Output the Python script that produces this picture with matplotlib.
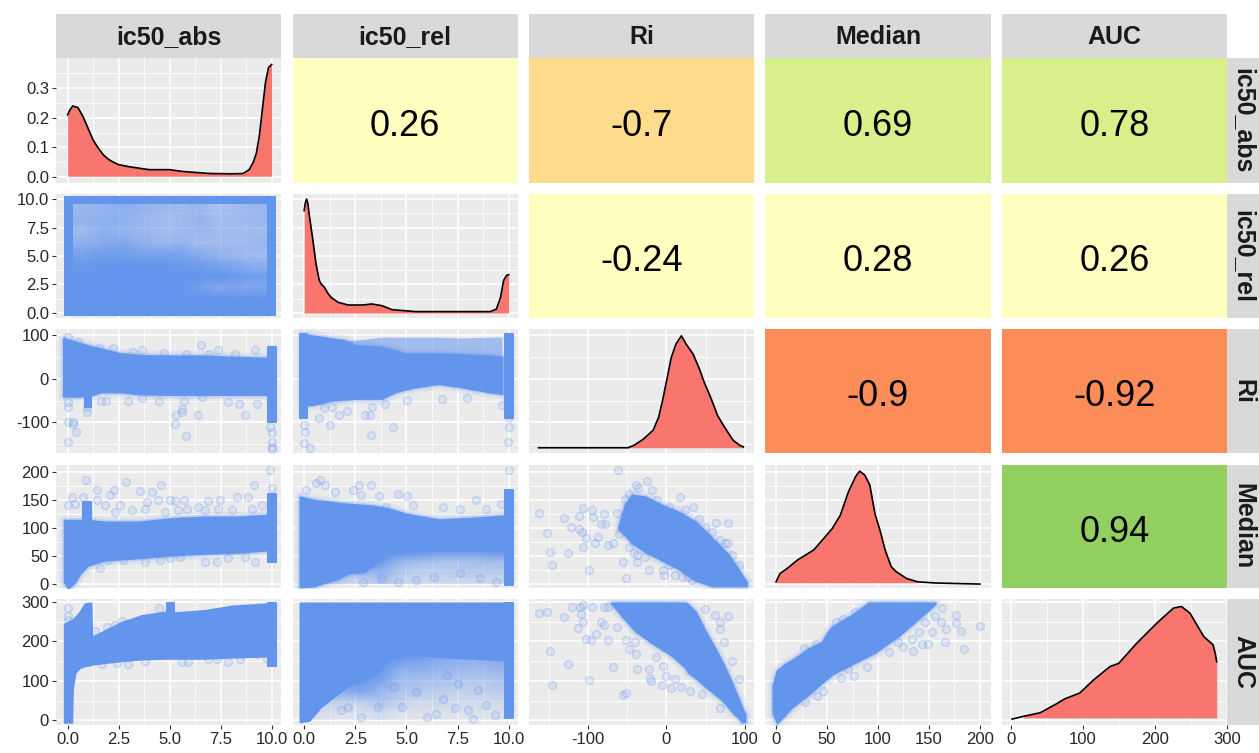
import matplotlib
matplotlib.use("Agg")
import matplotlib.pyplot as plt
import numpy as np
from matplotlib.colors import to_rgb

plt.rcParams["font.family"] = ["Liberation Sans", "DejaVu Sans"]

names = ["ic50_abs", "ic50_rel", "Ri", "Median", "AUC"]

# axis ticks
xticks = [[0, 2.5, 5, 7.5, 10], [0, 2.5, 5, 7.5, 10], [-100, 0, 100], [0, 50, 100, 150, 200], [0, 100, 200, 300]]
xticklabels = [["0.0", "2.5", "5.0", "7.5", "10.0"], ["0.0", "2.5", "5.0", "7.5", "10.0"], ["-100", "0", "100"],
               ["0", "50", "100", "150", "200"], ["0", "100", "200", "300"]]
yticks = [[0, 0.1, 0.2, 0.3], [0, 2.5, 5, 7.5, 10], [-100, 0, 100], [0, 50, 100, 150, 200], [0, 100, 200, 300]]
yticklabels = [["0.0", "0.1", "0.2", "0.3"], ["0.0", "2.5", "5.0", "7.5", "10.0"], ["-100", "0", "100"],
               ["0", "50", "100", "150", "200"], ["0", "100", "200", "300"]]
xlims = [(-0.57, 10.46), (-0.57, 10.43), (-175.2, 111.5), (-10.8, 210.8), (-12, 300.3)]
ylims = [(-0.02, 0.402), (-0.44, 10.44), (-170, 113.6), (-7, 213), (-12, 307)]

# correlations (upper triangle)
corr_cells = [(0, 1), (0, 2), (0, 3), (0, 4), (1, 2), (1, 3), (1, 4), (2, 3), (2, 4), (3, 4)]
corr_vals = ["0.26", "-0.7", "0.69", "0.78", "-0.24", "0.28", "0.26", "-0.9", "-0.92", "0.94"]
corr_cols = ["#FFFFBF", "#FEDC8B", "#D9EF8B", "#D9EF8B", "#FFFFBF", "#FFFFBF", "#FFFFBF", "#FC8D59", "#FC8D59", "#91CF60"]

# densities (in row units)
dens_abs_x = [0, 0.1, 0.25, 0.5, 0.75, 1, 1.25, 1.5, 1.75, 2, 2.25, 2.5, 3, 3.5, 4, 5, 5.5, 6, 7, 8, 8.6, 8.9, 9.1, 9.25, 9.4, 9.5, 9.6, 9.7, 9.85, 10]
dens_abs_y = [0.21, 0.225, 0.24, 0.235, 0.205, 0.165, 0.125, 0.098, 0.075, 0.06, 0.05, 0.042, 0.035, 0.03, 0.025, 0.025, 0.02, 0.017, 0.012, 0.011, 0.012, 0.025, 0.05, 0.08, 0.14, 0.2, 0.26, 0.32, 0.37, 0.38]
dens_rel_x = [0, 0.05, 0.12, 0.18, 0.25, 0.33, 0.41, 0.5, 0.58, 0.74, 0.85, 0.99, 1.15, 1.32, 1.65, 2.15, 2.9, 3.3, 3.8, 4.3, 5.45, 9.1, 9.4, 9.6, 9.75, 9.9, 10]
dens_rel_y = [8.98, 9.6, 10, 9.6, 8.6, 7.6, 6.6, 5.4, 4.3, 2.85, 2.5, 2.26, 1.75, 1.37, 0.94, 0.7, 0.7, 0.79, 0.64, 0.29, 0.12, 0.12, 0.35, 1.37, 2.85, 3.3, 3.36]
dens_ri_x = [-163, -49, -41, -30, -17, -10, -5, 1, 6, 12, 19, 25, 34, 42, 48, 57, 65, 74, 85, 93, 98]
dens_ri_y = [-158, -158, -152, -139, -118, -88, -50, 3, 48, 79, 98, 79, 56, 22, -8, -46, -84, -111, -141, -152, -156]
dens_med_x = [0, 4, 11, 21, 37, 47, 55, 63, 71, 78, 82, 87, 92, 97, 102, 107, 113, 118, 128, 139, 156, 200]
dens_med_y = [4, 19, 28, 43, 61, 82, 99, 123, 165, 192, 202, 195, 177, 126, 96, 61, 31, 22, 10, 4, 2, 0]
dens_auc_x = [2, 18, 41, 64, 75, 96, 115, 138, 150, 175, 203, 226, 237, 249, 268, 281, 284, 286]
dens_auc_y = [3, 10, 19, 42, 54, 69, 102, 136, 144, 195, 246, 284, 288, 271, 212, 191, 169, 148]
dens_base = [0.003, 0.0, -158, 2.4, 6]

# ic50_rel vs ic50_abs: opacity read on a coarse grid, solid outside it
rel_abs_op = [[0.6, 0.65, 0.7, 0.65, 0.6, 0.55, 0.6, 0.5, 0.55, 0.6],
              [0.65, 0.7, 0.7, 0.6, 0.55, 0.55, 0.65, 0.55, 0.55, 0.6],
              [0.55, 0.7, 0.65, 0.6, 0.55, 0.55, 0.6, 0.55, 0.55, 0.55],
              [0.7, 0.75, 0.8, 0.7, 0.6, 0.65, 0.55, 0.55, 0.55, 0.6],
              [0.85, 0.9, 0.9, 0.85, 0.85, 0.85, 0.75, 0.65, 0.6, 0.55],
              [0.95, 1, 1, 1, 1, 0.95, 0.9, 0.85, 0.75, 0.7],
              [1, 1, 1, 1, 1, 1, 1, 1, 0.95, 0.9],
              [1, 1, 1, 1, 1, 1, 0.9, 0.8, 0.8, 0.8],
              [1, 1, 1, 1, 1, 1, 1, 1, 1, 1]]

# Ri vs ic50_abs
ri_abs_x = [-0.2, 0.5, 1.1, 1.65, 2.5, 3.65, 5, 6.6, 8.2, 9.8]
ri_abs_hi = [92, 82, 74, 68, 58, 53, 52, 52, 49, 47]
ri_abs_lo = [-40, -40, -38, -30, -30, -35, -36, -36, -36, -36]
ri_abs_out_x = [0, 0.4, 0, 0.25, 0.25, 0, 0, 5.25, 5.3, 5.8, 6.4, 8.7, 9.9, 10, 10, 10, 10, 0.95, 0.95, 5.7, 5.6, 5.6, 1.65, 1.9, 2.95, 3.65, 4.5, 6.6, 7.85, 8.4, 9.3, 6.55, 7.35, 1.55, 2.2, 3.65, 9.2, 8.2, 6.95, 5.8, 4.7, 3.2, 0.5, 0]
ri_abs_out_y = [-145, -122, -98, -98, -103, -65, -54, -103, -84, -130, -82, -82, -111, -122, -145, -156, -160, -77, -65, -50, -69, -77, -50, -52, -52, -44, -50, -42, -54, -58, -58, 77, 66, 70, 70, 65, 65, 56, 56, 56, 58, 61, 83, 95]

# Median vs ic50_abs
med_abs_x = [-0.16, 0.03, 0.36, 0.6, 1.0, 1.83, 3.46, 5.1, 6.73, 8.37, 9.75]
med_abs_hi = [114, 114, 114, 114, 114, 111, 111, 117, 120, 120, 123]
med_abs_lo = [4, -7, 4, 19, 34, 43, 47, 52, 55, 57, 61]
med_abs_out_x = [0.88, 2.86, 4.6, 1.42, 2.29, 3.55, 4.12, 9.92, 9.15, 10, 0.2, 0.77, 1.42, 2.08, 4.44, 5.02, 5.72, 5.26, 6.9, 7.47, 8.28, 8.86, 0, 0.36, 1.83, 2.57, 3.79, 3.87, 5.83, 6.4, 7.39, 9.51, 1.58, 2.73, 3.79, 4.53, 5.02, 6.73, 7.34, 9.18, 2, 5.51, 7.88, 8.69, 1.01, 2.32, 3.14, 4.77, 5.42, 6.73, 8.04, 9.02]
med_abs_out_y = [186, 183, 177, 168, 168, 166, 165, 204, 177, 171, 156, 156, 150, 159, 151, 151, 151, 148, 148, 151, 156, 156, 141, 144, 141, 141, 135, 147, 135, 138, 135, 141, 28, 43, 40, 43, 46, 40, 40, 40, 43, 49, 47, 49, 129, 129, 132, 129, 132, 132, 132, 135]

# AUC vs ic50_abs
auc_abs_x = [-0.16, 0.2, 0.23, 0.36, 0.6, 0.85, 1.14, 1.18, 1.83, 2.65, 3.63, 4.77, 5.26, 6.73, 8.04, 9.84]
auc_abs_hi = [244, 253, 254, 260, 274, 295, 297, 210, 227, 248, 265, 274, 272, 278, 289, 295]
auc_abs_lo = [-5, -5, 79, 121, 134, 138, 141, 142, 146, 151, 155, 157, 157, 157, 160, 163]
auc_abs_out_x = [0, 0, 0, 4.49, 1.34, 1.91, 2.32, 2.65, 1.67, 2.4, 2.94, 3.79, 5.59, 5.88, 6.9, 7.3, 7.88, 8.45, 9.26, 9.75, 5.26, 6.4, 7.55, 8.53, 9.02]
auc_abs_out_y = [284, 265, 255, 284, 225, 236, 240, 251, 142, 144, 142, 151, 147, 147, 155, 155, 147, 155, 168, 155, 164, 164, 168, 168, 172]

# Ri vs ic50_rel
ri_rel_x = [-0.11, 0.38, 0.86, 1.35, 2, 2.5, 3.8, 4.45, 4.94, 5.43, 6.57, 7.72, 9.02, 9.67]
ri_rel_hi = [102, 98, 95, 91, 87, 76, 72, 64, 57, 57, 57, 55, 52, 49]
ri_rel_lo = [-61, -59, -55, -49, -47, -45, -45, -30, -24, -19, -11, -19, -30, -34]
ri_rel_top = [102, 98, 95, 91, 87, 88, 95, 95, 95, 95, 95, 93, 95, 95]
ri_rel_out_x = [0, 0.05, 0, 0.3, 0.73, 1.27, 1.68, 2.09, 2.98, 3.23, 3.28, 4.32, 0.95, 1.35, 3.31, 3.96, 5.02, 6.74, 7.96, 9.67, 9.97, 10, 10]
ri_rel_out_y = [-106, -123, -148, -159, -89, -105, -82, -73, -83, -82, -129, -111, -68, -64, -64, -57, -49, -47, -45, -61, -144, -110, -87]

# Median vs ic50_rel
med_rel_x = [-0.2, 0.5, 1, 1.65, 2.15, 2.9, 3.3, 4.1, 5, 6.6, 8.2, 9.8]
med_rel_hi = [156, 150, 148, 145, 143, 141, 140, 135, 125, 115, 118, 122]
med_rel_lo = [-5, -3, 3, 10, 20, 22, 32, 58, 60, 60, 60, 60]
med_rel_op = [[1, 1, 1, 1, 0.95, 0.9, 0.8, 0.8, 0.8, 0.85],
              [1, 1, 0.95, 0.9, 0.6, 0.5, 0.45, 0.45, 0.5, 0.5],
              [0.85, 0.55, 0.5, 0.7, 0.45, 0.35, 0.35, 0.4, 0.4, 0.4],
              [0.45, 0.3, 0.3, 0.5, 0.3, 0.25, 0.25, 0.25, 0.25, 0.25]]
med_rel_out_x = [0.75, 0.6, 1, 1.5, 2.7, 3.25, 4.6, 5.05, 2.8, 3.65, 2.4, 0.1, 8.4, 9.6, 4, 5.3, 6.8, 8.9, 7.6, 10, 3.8, 4.6, 5.45, 6.35, 7.6, 8.6, 9.4, 2.9]
med_rel_out_y = [186, 180, 177, 165, 177, 177, 162, 157, 159, 157, 168, 168, 150, 144, 138, 141, 138, 135, 135, 204, 10, 4, 7, 13, 19, 10, 4, 4]

# AUC vs ic50_rel
auc_rel_x = [-0.2, 0.25, 0.8, 1.65, 2.3, 2.9, 3.6, 4.1, 5, 6.6, 8.2, 9.8]
auc_rel_lo = [-4, 0, 34, 68, 93, 100, 119, 153, 170, 161, 157, 153]
auc_rel_op = [[1, 1, 1, 1, 1, 0.9, 0.8, 0.75, 0.75, 0.8],
              [1, 1, 1, 0.95, 0.7, 0.7, 0.6, 0.6, 0.55, 0.6],
              [1, 1, 0.95, 0.85, 0.55, 0.5, 0.5, 0.45, 0.4, 0.45],
              [0.9, 0.7, 0.8, 0.6, 0.45, 0.4, 0.35, 0.3, 0.3, 0.35],
              [0.3, 0.3, 0.3, 0.45, 0.3, 0.2, 0.25, 0.2, 0.2, 0.2],
              [0.15, 0.1, 0.1, 0.2, 0.1, 0.1, 0.1, 0.1, 0.1, 0.1]]
auc_rel_out_x = [2.8, 1.8, 2.15, 3.6, 4.8, 5.45, 4.4, 6.45, 7.35, 8, 8.25, 6, 9.35, 8.9, 6.8, 7.5, 7, 8.5]
auc_rel_out_y = [8, 25, 34, 34, 34, 72, 85, 17, 30, 25, 4, 8, 13, 38, 55, 93, 114, 76]

# Median vs Ri
med_ri_x = [-61, -53, -44, -27, -6, 15, 37, 58, 79, 96, 102]
med_ri_hi = [102, 141, 159, 156, 141, 129, 111, 82, 52, 16, 3]
med_ri_lo = [99, 88, 74, 58, 43, 28, 7, -3, -3, -3, -3]
med_ri_out_x = [-62, -25, -39, -19, 17, 34, -163, -130, -111, -107, -95, -94, -79, -63, 42, 63, 79, -122, -112, -152, -108, -103, -87, -91, -74, -68, -107, -148, -126, -146, -99, -56, -51, -37, -22, -5, -3, 11, 75, 79, -78, -84, -41, -38, 20, 32,
                -53, -48, -36, -12, 3, 24, 49, 58, 68, 83, 92, -48, -27, 3, 28, -61]
med_ri_out_y = [204, 185, 178, 168, 156, 138, 127, 119, 122, 136, 133, 120, 126, 128, 117, 110, 110, 102, 98, 92, 93, 82, 85, 73, 70, 73, 67, 58, 55, 35, 26, 40, 11, 40, 26, 26, 17, 17, 73, 73, 108, 108, 55, 52, 13, 7,
                153, 162, 171, 150, 138, 132, 102, 93, 79, 52, 34, 67, 49, 34, 13, 90]

# AUC vs Ri
auc_ri_x = [-70, -57, -40, -19, 7, 24, 28, 37, 49, 62, 70, 75, 83, 87, 92, 96, 100]
auc_ri_hi = [297, 297, 297, 297, 297, 297, 292, 274, 227, 181, 151, 130, 96, 75, 53, 32, 15]
auc_ri_lo = [297, 265, 227, 197, 164, 134, 121, 108, 87, 66, 53, 43, 24, 15, 7, -4, -4]
auc_ri_out_x = [-163, -152, -130, -121, -110, -107, -95, -79, -74, -109, -107, -113, -83, -80, -63, -90, -103, -96, -74, -148, -126, -68, -99, -146, -56, -51, -37, -22, -21, -20, -6, 6, 19, 30, 68, 79, 62, 49, 68, 68, 73, 83, 92, -51, -40, -48, -39, -14, -4, 0, 11, 45]
auc_ri_out_y = [272, 275, 261, 288, 286, 291, 286, 286, 286, 268, 250, 234, 248, 240, 236, 219, 206, 204, 202, 176, 142, 136, 103, 90, 64, 69, 130, 130, 107, 100, 89, 81, 83, 75, 32, 264, 267, 282, 248, 231, 197, 151, 104, 202, 197, 181, 168, 159, 138, 113, 104, 66]

# AUC vs Median
auc_med_x = [-3, 1, 9, 15, 25, 32, 45, 51, 55, 74, 91, 97, 120, 143, 156]
auc_med_hi = [87, 125, 142, 151, 168, 181, 197, 223, 236, 265, 297, 297, 297, 297, 297]
auc_med_lo = [19, -6, 15, 32, 53, 66, 96, 108, 117, 142, 164, 172, 214, 265, 295]
auc_med_out_x = [27, 39, 59, 66, 77, 163, 176, 176, 200, 181, 167, 166, 184, 134, 149, 125, 111, 89, 76, 64, 40, 28, 153, 146, 156, 140, 133, 120, 143, 162, 46, 71]
auc_med_out_y = [183, 193, 248, 257, 274, 284, 267, 247, 238, 225, 231, 197, 181, 176, 193, 185, 172, 134, 111, 108, 62, 45, 223, 248, 265, 223, 206, 197, 193, 248, 75, 130]

W, H = 1259, 753
col_px = [(56, 281), (292.5, 517.5), (529, 754), (765, 991), (1002, 1227)]
row_px = [(58, 183), (194, 318), (329, 453), (465, 588), (599, 725)]
BLUE = "#6495ED"
rgb = to_rgb(BLUE)


def panel_box(x0, x1, y0, y1):
    return [x0 / W, 1 - y1 / H, (x1 - x0) / W, (y1 - y0) / H]


def minors(ticks, lim):
    t = np.array(ticks, dtype=float)
    step = t[1] - t[0]
    vals = np.arange(t[0] - step / 2, lim[1], step)
    return [v for v in vals if lim[0] < v < lim[1]]


def band(ax, x, lo, hi, halo=True):
    if halo:
        ax.fill_between(x, lo, hi, color=BLUE, lw=8, alpha=0.10, zorder=2.85)
        ax.fill_between(x, lo, hi, color=BLUE, lw=4, alpha=0.25, zorder=2.9)
    ax.fill_between(x, lo, hi, color=BLUE, lw=1.5, zorder=3)


def dots(ax, x, y):
    ax.scatter(x, y, s=32, facecolor=rgb + (0.12,), edgecolor=rgb + (0.28,), linewidths=1.0, zorder=4)


def haze(ax, grid, extent):
    grid = np.array(grid, dtype=float)
    rgba = np.ones(grid.shape + (4,))
    rgba[..., :3] = rgb
    rgba[..., 3] = grid
    ax.imshow(rgba, extent=extent, aspect="auto", interpolation="bilinear", zorder=2.8)


fig = plt.figure(figsize=(W / 100, H / 100), dpi=100, facecolor="white")
axes = {}

for r in range(5):
    for c in range(5):
        ax = fig.add_axes(panel_box(col_px[c][0], col_px[c][1], row_px[r][0], row_px[r][1]))
        axes[(r, c)] = ax
        ax.set_facecolor("#EBEBEB")
        for s in ax.spines.values():
            s.set_visible(False)
        ax.set_axisbelow(True)
        ax.set_xticks(xticks[c])
        ax.set_yticks(yticks[r])
        ax.set_xticks(minors(xticks[c], xlims[c]), minor=True)
        ax.set_yticks(minors(yticks[r], ylims[r]), minor=True)
        ax.grid(which="major", color="white", lw=1.1)
        ax.grid(which="minor", color="white", lw=0.55)
        ax.tick_params(which="minor", length=0)
        ax.tick_params(which="major", length=3, width=0.8, color="#333333", labelsize=12, labelcolor="#262626", pad=2)
        if c == 0:
            ax.set_yticklabels(yticklabels[r])
        else:
            ax.tick_params(axis="y", which="major", left=False, labelleft=False)
        if r == 4:
            ax.set_xticklabels(xticklabels[c])
        else:
            ax.tick_params(axis="x", which="major", bottom=False, labelbottom=False)

# correlations
for (r, c), val, col in zip(corr_cells, corr_vals, corr_cols):
    ax = axes[(r, c)]
    ax.set_facecolor(col)
    ax.grid(False, which="both")
    ax.text(0.5, 0.455, val, transform=ax.transAxes, ha="center", va="center", fontsize=26, color="black")

# densities
dens = [(dens_abs_x, dens_abs_y), (dens_rel_x, dens_rel_y), (dens_ri_x, dens_ri_y), (dens_med_x, dens_med_y), (dens_auc_x, dens_auc_y)]
for i, (dx, dy) in enumerate(dens):
    ax = axes[(i, i)]
    ax.fill_between(dx, dens_base[i], dy, where=np.array(dy) >= dens_base[i], color="#F8766D", lw=0, zorder=2)
    ax.plot(dx, dy, color="black", lw=1.2, zorder=3)

# ic50_rel vs ic50_abs
ax = axes[(1, 0)]
ax.fill_between([-0.2, 10.2], -0.3, 0.8, color=BLUE, lw=0, zorder=3)
ax.fill_between([-0.2, 10.2], 9.55, 10.26, color=BLUE, lw=0, zorder=3)
ax.fill_between([-0.2, 0.25], -0.3, 10.26, color=BLUE, lw=0, zorder=3)
ax.fill_between([9.75, 10.2], -0.3, 10.26, color=BLUE, lw=0, zorder=3)
haze(ax, rel_abs_op, (0.25, 9.75, 0.8, 9.55))

# Ri vs ic50_abs
ax = axes[(2, 0)]
band(ax, ri_abs_x, ri_abs_lo, ri_abs_hi)
band(ax, [0.85, 1.15], [-65, -65], [70, 70], halo=False)
band(ax, [9.8, 10.2], [-100, -100], [72, 72], halo=False)
dots(ax, ri_abs_out_x, ri_abs_out_y)

# Median vs ic50_abs
ax = axes[(3, 0)]
band(ax, med_abs_x, med_abs_lo, med_abs_hi)
band(ax, [0.77, 1.14], [40, 40], [147, 147], halo=False)
band(ax, [9.8, 10.2], [40, 40], [162, 162], halo=False)
dots(ax, med_abs_out_x, med_abs_out_y)

# AUC vs ic50_abs
ax = axes[(4, 0)]
band(ax, auc_abs_x, auc_abs_lo, auc_abs_hi, halo=False)
band(ax, [4.85, 5.2], [250, 250], [297, 297], halo=False)
band(ax, [9.8, 10.2], [138, 138], [297, 297], halo=False)
dots(ax, auc_abs_out_x, auc_abs_out_y)

# Ri vs ic50_rel
ax = axes[(2, 1)]
ax.fill_between(ri_rel_x, ri_rel_hi, ri_rel_top, color=BLUE, lw=0, alpha=0.55, zorder=2.8)
band(ax, ri_rel_x, ri_rel_lo, ri_rel_hi)
band(ax, [-0.2, 0.15], [-91, -91], [102, 102], halo=False)
band(ax, [9.83, 10.2], [-91, -91], [102, 102], halo=False)
dots(ax, ri_rel_out_x, ri_rel_out_y)

# Median vs ic50_rel
ax = axes[(3, 1)]
haze(ax, med_rel_op, (0.5, 9.8, 0, 60))
band(ax, med_rel_x, med_rel_lo, med_rel_hi)
band(ax, [9.8, 10.2], [-2, -2], [168, 168], halo=False)
dots(ax, med_rel_out_x, med_rel_out_y)

# AUC vs ic50_rel
ax = axes[(4, 1)]
haze(ax, auc_rel_op, (0.5, 9.8, 0, 170))
band(ax, auc_rel_x, auc_rel_lo, [297] * len(auc_rel_x), halo=False)
band(ax, [9.8, 10.2], [5, 5], [297, 297], halo=False)
dots(ax, auc_rel_out_x, auc_rel_out_y)

# Median vs Ri
ax = axes[(3, 2)]
band(ax, med_ri_x, med_ri_lo, med_ri_hi)
dots(ax, med_ri_out_x, med_ri_out_y)

# AUC vs Ri
ax = axes[(4, 2)]
band(ax, auc_ri_x, auc_ri_lo, auc_ri_hi)
dots(ax, auc_ri_out_x, auc_ri_out_y)

# AUC vs Median
ax = axes[(4, 3)]
band(ax, auc_med_x, auc_med_lo, auc_med_hi)
dots(ax, auc_med_out_x, auc_med_out_y)

for (r, c), ax in axes.items():
    ax.set_xlim(xlims[c])
    ax.set_ylim(ylims[r])

# strips
for c, name in enumerate(names):
    sax = fig.add_axes(panel_box(col_px[c][0], col_px[c][1], 14, 58))
    sax.set_facecolor("#D9D9D9")
    sax.set_xticks([])
    sax.set_yticks([])
    for s in sax.spines.values():
        s.set_visible(False)
    sax.text(0.5, 0.48, name, transform=sax.transAxes, ha="center", va="center", fontsize=18, fontweight="bold", color="#1A1A1A")
for r, name in enumerate(names):
    sax = fig.add_axes(panel_box(1227, 1259, row_px[r][0], row_px[r][1]))
    sax.set_facecolor("#D9D9D9")
    sax.set_xticks([])
    sax.set_yticks([])
    for s in sax.spines.values():
        s.set_visible(False)
    sax.text(0.5, 0.5, name, transform=sax.transAxes, ha="center", va="center", rotation=-90, fontsize=18, fontweight="bold", color="#1A1A1A")

fig.savefig("out.png", dpi=100)
